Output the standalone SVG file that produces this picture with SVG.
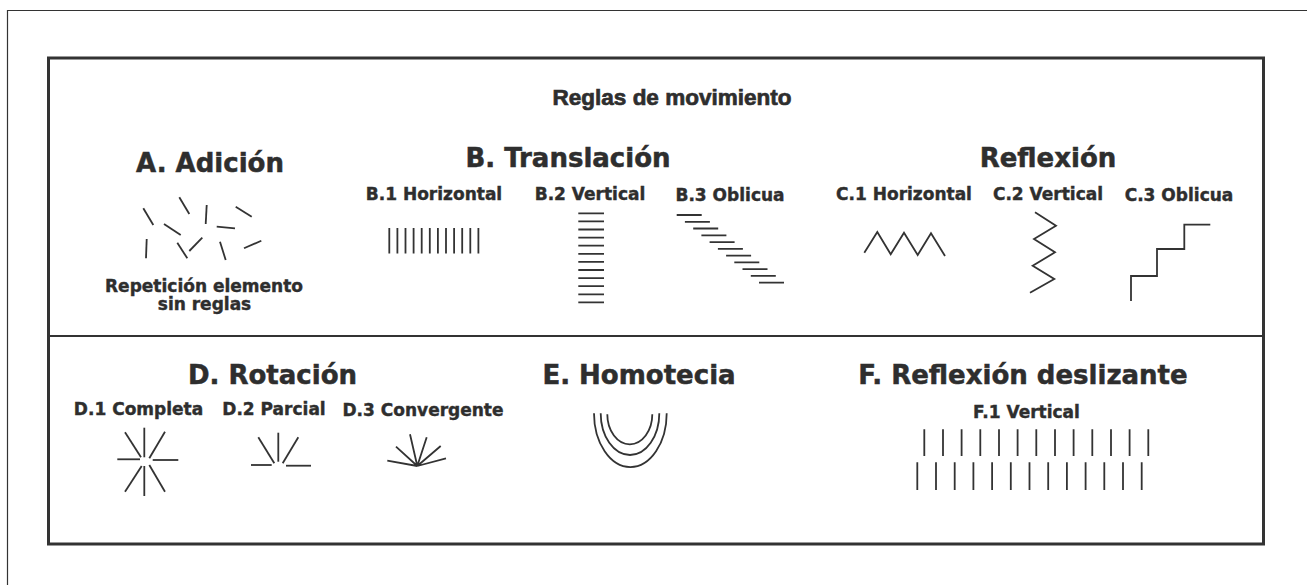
<svg xmlns="http://www.w3.org/2000/svg" width="1307" height="585" viewBox="0 0 1307 585">
<style>
text{font-family:"DejaVu Sans","Liberation Sans",sans-serif;font-weight:bold;fill:#2e2e2e;stroke:#2e2e2e;stroke-width:0.4;text-anchor:middle}
.h{font-size:26px;stroke-width:0.5}
.s{font-size:17px}
.t{font-family:"Liberation Sans",Arial,sans-serif;font-size:22.5px;stroke-width:0.7}
.ln{stroke:#333;stroke-width:1.8;fill:none;stroke-linecap:butt}
.frame{fill:none;stroke:#333}
</style>
<rect width="1307" height="585" fill="#fff"/>
<g id="frames">
<path class="frame" d="M7.5,585 V10.5 H1307" stroke-width="1.2"/>
<rect class="frame" x="48.5" y="58" width="1215" height="486" stroke-width="3"/>
<line class="frame" x1="48" y1="336" x2="1262" y2="336" stroke-width="2"/>
</g>
<g id="title"><text class="t" x="672" y="105">Reglas de movimiento</text></g>
<g id="A">
<text class="h" x="210" y="172">A. Adición</text>
<g class="ln">
<line x1="143.3" y1="208.3" x2="153.3" y2="225"/>
<line x1="179.3" y1="197.3" x2="189.3" y2="214"/>
<line x1="206.7" y1="205" x2="205.7" y2="224"/>
<line x1="235.7" y1="206.7" x2="251.7" y2="216.7"/>
<line x1="164" y1="224" x2="180.7" y2="235"/>
<line x1="216.7" y1="226.7" x2="235" y2="228.3"/>
<line x1="146.7" y1="239" x2="146" y2="258.3"/>
<line x1="177.3" y1="242.7" x2="187.3" y2="258.3"/>
<line x1="189.3" y1="251" x2="202.3" y2="237.7"/>
<line x1="220" y1="241.7" x2="225.7" y2="260"/>
<line x1="244" y1="248.3" x2="261.3" y2="240.7"/>
</g>
<text class="s" x="204" y="292">Repetición elemento</text>
<text class="s" x="204.5" y="310">sin reglas</text>
</g>
<g id="B">
<text class="h" x="568" y="167">B. Translación</text>
<text class="s" x="434" y="200">B.1 Horizontal</text>
<text class="s" x="590" y="200">B.2 Vertical</text>
<text class="s" x="730" y="201">B.3 Oblicua</text>
<g class="ln">
<path d="M389.3,228V253.5M397.4,228V253.5M405.5,228V253.5M413.6,228V253.5M421.7,228V253.5M429.8,228V253.5M437.9,228V253.5M446,228V253.5M454.1,228V253.5M462.2,228V253.5M470.3,228V253.5M478.4,228V253.5"/>
<path d="M578.3,213.3H604M578.3,221.4H604M578.3,229.5H604M578.3,237.6H604M578.3,245.7H604M578.3,253.8H604M578.3,261.9H604M578.3,270H604M578.3,278.1H604M578.3,286.2H604M578.3,294.3H604M578.3,302.4H604"/>
<path d="M676.7,215h25M684.9,221.8h25M693.2,228.5h25M701.4,235.3h25M709.6,242.1h25M717.9,248.9h25M726.1,255.6h25M734.3,262.4h25M742.5,269.2h25M750.8,275.9h25M759,282.7h25"/>
</g>
</g>
<g id="C">
<text class="h" x="1048" y="167">Reflexión</text>
<text class="s" x="904" y="200">C.1 Horizontal</text>
<text class="s" x="1048" y="200">C.2 Vertical</text>
<text class="s" x="1179" y="201">C.3 Oblicua</text>
<g class="ln">
<polyline points="864.3,252.7 877.3,232 890.7,254.3 904,232.7 917.7,255 931,233.3 945,256"/>
<polyline points="1035,212.3 1056,225.7 1034,239 1055,252.3 1032.7,265.7 1054.3,279 1030,292.7"/>
<polyline points="1131,301 1131,276 1157,276 1157,249 1184.3,249 1184.3,224.7 1210.3,224.7"/>
</g>
</g>
<g id="D">
<text class="h" x="272.5" y="384">D. Rotación</text>
<text class="s" x="138.5" y="415">D.1 Completa</text>
<text class="s" x="274" y="415">D.2 Parcial</text>
<text class="s" x="423" y="416">D.3 Convergente</text>
<g class="ln">
<line x1="144.3" y1="427.7" x2="144.3" y2="457.3"/>
<line x1="125" y1="432.3" x2="141" y2="457.3"/>
<line x1="165" y1="431.7" x2="149.3" y2="458.3"/>
<line x1="117.3" y1="459.3" x2="140" y2="459.3"/>
<line x1="152.7" y1="460" x2="178.3" y2="460"/>
<line x1="141.7" y1="466" x2="125" y2="491.7"/>
<line x1="144.3" y1="466" x2="144.3" y2="496"/>
<line x1="149.3" y1="465" x2="165" y2="491.7"/>
<line x1="251" y1="465" x2="271.7" y2="465"/>
<line x1="258.3" y1="437.3" x2="274.3" y2="463.3"/>
<line x1="278.3" y1="432.7" x2="278.3" y2="461.7"/>
<line x1="298.3" y1="437.3" x2="282.7" y2="463.3"/>
<line x1="286" y1="465.7" x2="311" y2="465.7"/>
<path d="M417.3,466L387.3,460.7M417.3,466L396,446.7M417.3,466L410,434.3M417.3,466L426.7,437.3M417.3,466L440.7,446M417.3,466L446,458.3"/>
</g>
</g>
<g id="E">
<text class="h" x="639" y="384">E. Homotecia</text>
<g class="ln">
<path d="M594,413.3 A35.6,52.7 0 0 0 666.7,413.3"/>
<path d="M600.7,413.3 A29.3,41.7 0 0 0 659.3,413.3"/>
<path d="M607.3,414.3 A22.5,30 0 0 0 652.3,414.3"/>
</g>
</g>
<g id="F">
<text class="h" x="1023" y="384">F. Reflexión deslizante</text>
<text class="s" x="1026.5" y="418">F.1 Vertical</text>
<g class="ln">
<path d="M924.3,429.3V456M943,429.3V456M961.6,429.3V456M980.3,429.3V456M999,429.3V456M1017.6,429.3V456M1036.3,429.3V456M1055,429.3V456M1073.6,429.3V456M1092.3,429.3V456M1111,429.3V456M1129.6,429.3V456M1148.3,429.3V456"/>
<path d="M917.3,462.3V490M936,462.3V490M954.7,462.3V490M973.4,462.3V490M992.1,462.3V490M1010.8,462.3V490M1029.5,462.3V490M1048.2,462.3V490M1066.9,462.3V490M1085.6,462.3V490M1104.3,462.3V490M1123,462.3V490M1141.7,462.3V490"/>
</g>
</g>
</svg>
